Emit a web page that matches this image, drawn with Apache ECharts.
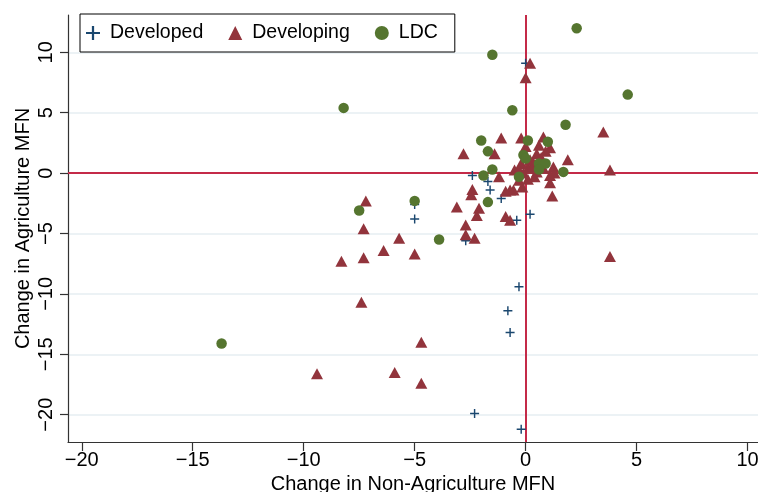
<!DOCTYPE html>
<html>
<head>
<meta charset="utf-8">
<script src="https://cdn.jsdelivr.net/npm/echarts@6/dist/echarts.min.js"></script>
<style>
  html, body { margin: 0; padding: 0; background: #fff; }
  #chart { width: 758px; height: 492px; }
</style>
</head>
<body>
<div id="chart"></div>
<script>
// ---------------------------------------------- data (x: non-agri change, y: agri change)
var developed = [
    [0.0, 9.1], [-2.4, -0.2], [-1.7, -0.7], [-1.6, -1.4], [-1.1, -2.1],
    [0.2, -3.4], [-0.4, -3.9], [-5.0, -2.6], [-5.0, -3.8], [-2.7, -5.6],
    [-0.3, -9.4], [-0.8, -11.4], [-0.7, -13.2], [-2.3, -19.9], [-0.2, -21.2]
];
var developing = [
    [0.2, 9.1], [0.0, 7.9], [3.5, 3.4], [-1.1, 2.9], [-0.2, 2.9], [0.8, 3.0],
    [-2.8, 1.6], [-1.4, 1.6], [0.0, 2.2], [0.5, 1.6], [1.1, 2.1], [1.9, 1.1],
    [1.25, 0.5], [1.3, 0.0], [1.1, -0.8], [1.2, -1.9], [3.8, 0.25], [-0.5, 0.25],
    [0.1, 0.4], [0.35, 0.85], [-0.2, 0.8], [-0.3, -0.6], [-0.15, -1.15], [-1.2, -0.3],
    [-0.7, -1.4], [-0.9, -1.5], [-0.55, -1.4], [-2.4, -1.35], [-2.45, -1.8],
    [-2.1, -2.9], [-3.1, -2.8], [-0.9, -3.6], [-0.7, -3.9], [-2.2, -3.5],
    [-2.7, -4.3], [-2.7, -5.1], [-2.3, -5.4], [-7.2, -2.3], [-7.3, -4.6],
    [-8.3, -7.3], [-7.3, -7.0], [-6.4, -6.4], [-5.7, -5.4], [-5.0, -6.7],
    [-7.4, -10.7], [-9.4, -16.6], [-4.7, -14.0], [-5.9, -16.5], [-4.7, -17.4],
    [3.8, -6.9], [0.3, 0.5], [0.5, 0.1], [-0.3, 0.3], [0.2, 1.1], [0.7, 1.3],
    [0.9, 1.8], [-0.1, 0.0], [0.4, -0.3], [0.1, -0.5], [0.8, 0.4], [0.6, 2.3],
    [1.1, -0.2]
];
var ldc = [
    [2.3, 12.0], [-1.5, 9.8], [-8.2, 5.4], [4.6, 6.5], [-0.6, 5.2], [1.8, 4.0],
    [-2.0, 2.7], [0.1, 2.7], [1.0, 2.6], [-1.7, 1.8], [-0.1, 1.5], [0.0, 1.2],
    [0.6, 0.8], [0.9, 0.8], [0.6, 0.3], [1.7, 0.1], [-1.5, 0.3], [-1.9, -0.2],
    [-0.3, -0.3], [-1.7, -2.4], [-5.0, -2.3], [-3.9, -5.5], [-7.5, -3.1],
    [-13.7, -14.1]
];
var xTicks = [-20, -15, -10, -5, 0, 5, 10];
var yTicks = [-20, -15, -10, -5, 0, 5, 10];

var FONT = 'Liberation Sans';
var plusIcon = 'path://M4.2,0h1.6v4.2h4.2v1.6h-4.2v4.2h-1.6v-4.2h-4.2v-1.6h4.2z';

function fmt(v) {
    return v < 0 ? '\u2212' + Math.abs(v) : String(v);
}

var myChart = echarts.init(document.getElementById('chart'));
var option = {
    animation: false,
    backgroundColor: '#fff',
    grid: {
        left: 68,
        right: 0,
        top: 15,
        bottom: 50,
        outerBoundsMode: 'none',
        containLabel: false
    },
    legend: {
        left: 80,
        top: 14,
        orient: 'horizontal',
        padding: [9, 17, 9, 6],
        itemGap: 25,
        itemWidth: 14,
        itemHeight: 14,
        borderColor: '#000',
        borderWidth: 1,
        backgroundColor: '#fff',
        textStyle: {
            fontFamily: FONT,
            fontSize: 19.5,
            color: '#000',
            padding: [0, 0, 0, 5]
        },
        data: [
            { name: 'Developed', icon: plusIcon },
            { name: 'Developing', icon: 'triangle' },
            { name: 'LDC', icon: 'circle' }
        ]
    },
    xAxis: {
        type: 'value',
        min: -20.62,
        max: 10.47,
        name: 'Change in Non-Agriculture MFN',
        nameLocation: 'middle',
        nameGap: 31,
        nameTextStyle: { fontFamily: FONT, fontSize: 20, color: '#000' },
        axisLine: { onZero: false, lineStyle: { color: '#333', width: 1.2 } },
        axisTick: { length: 9, customValues: xTicks, lineStyle: { color: '#333', width: 1.2 } },
        axisLabel: {
            customValues: xTicks,
            formatter: fmt,
            margin: 8,
            fontFamily: FONT,
            fontSize: 20,
            color: '#000'
        },
        splitLine: { show: false }
    },
    yAxis: {
        type: 'value',
        min: -22.26,
        max: 13.09,
        name: 'Change in Agriculture MFN',
        nameLocation: 'middle',
        nameGap: 35,
        nameMoveOverlap: false,
        nameTextStyle: { fontFamily: FONT, fontSize: 20, color: '#000' },
        axisLine: { show: true, onZero: false, lineStyle: { color: '#333', width: 1.2 } },
        axisTick: { show: true, length: 8, customValues: yTicks, lineStyle: { color: '#333', width: 1.2 } },
        axisLabel: {
            customValues: yTicks,
            formatter: fmt,
            rotate: 90,
            margin: 12,
            fontFamily: FONT,
            fontSize: 20,
            color: '#000'
        },
        splitLine: { show: true, lineStyle: { color: '#e6eef2', width: 1.5 } }
    },
    series: [
        {
            name: 'Developed',
            type: 'scatter',
            data: developed,
            symbol: plusIcon,
            symbolSize: 9,
            itemStyle: { color: '#1a476f', opacity: 1 },
            markLine: {
                silent: true,
                z: 1,
                symbol: ['none', 'none'],
                label: { show: false },
                lineStyle: { color: '#c42a48', width: 2, type: 'solid' },
                emphasis: { disabled: true },
                data: [{ xAxis: 0 }, { yAxis: 0 }]
            }
        },
        {
            name: 'Developing',
            type: 'scatter',
            data: developing,
            symbol: 'triangle',
            symbolSize: [12, 11],
            itemStyle: { color: '#92343c', opacity: 1 }
        },
        {
            name: 'LDC',
            type: 'scatter',
            data: ldc,
            symbol: 'circle',
            symbolSize: 10.5,
            itemStyle: { color: '#55752f', opacity: 1 }
        }
    ]
};
myChart.setOption(option);
</script>
</body>
</html>
